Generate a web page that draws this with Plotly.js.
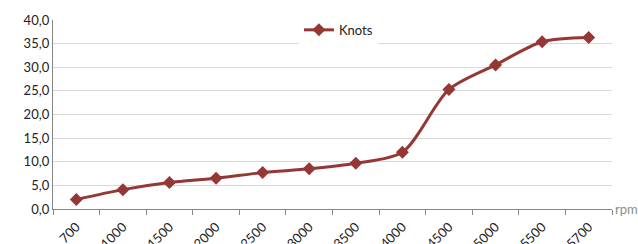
<!DOCTYPE html>
<html><head><meta charset="utf-8">
<script src="https://cdn.plot.ly/plotly-3.0.1.min.js"></script>
<style>html,body{margin:0;padding:0;background:#fff;}#chart{width:638px;height:244px;}</style>
</head><body><div id="chart"></div>
<script>
const categories = ['700','1000','1500','2000','2500','3000','3500','4000','4500','5000','5500','5700'];
const knots = [2.0, 4.1, 5.6, 6.5, 7.7, 8.5, 9.7, 12.0, 25.3, 30.5, 35.4, 36.3];
const seriesName = 'Knots';
const yTicks = [0,5,10,15,20,25,30,35,40];

const color = '#953735';
const font = 'Lato, "Open Sans", "DejaVu Sans", sans-serif';

Plotly.newPlot('chart', [{
  x: categories, y: knots, name: seriesName, type: 'scatter', mode: 'lines+markers',
  line: {color: color, width: 3, shape: 'spline', smoothing: 0.8},
  marker: {symbol: 'diamond', size: 10, color: color}
}], {
  width: 638, height: 244,
  margin: {l: 53, r: 26, t: 20, b: 35},
  paper_bgcolor: '#fff', plot_bgcolor: '#fff',
  separators: ', ',
  font: {family: font, size: 13, color: '#222'},
  showlegend: true,
  legend: {x: 0.44, y: 1.027, xanchor: 'left', yanchor: 'top', orientation: 'h',
           bgcolor: '#fff', font: {size: 13, color: '#222'}, itemwidth: 30},
  xaxis: {type: 'category', range: [-0.5, 11.5], showgrid: false, zeroline: false,
          showline: true, linecolor: '#868686', linewidth: 1.2,
          ticks: 'outside', tickson: 'boundaries', ticklen: 5, tickcolor: '#868686',
          tickangle: -45, ticklabelstandoff: 4, tickfont: {size: 13, color: '#222'}},
  yaxis: {range: [0, 40], tickvals: yTicks, tickformat: '.1f', showgrid: true,
          gridcolor: '#d9d9d9', gridwidth: 1.2, zeroline: false,
          showline: true, linecolor: '#868686', linewidth: 1.2, ticks: '',
          tickfont: {size: 13, color: '#222'}},
  annotations: [{xref: 'paper', yref: 'paper', x: 1, y: 0, xanchor: 'left', yanchor: 'middle',
                 text: 'rpm', showarrow: false, font: {size: 13, color: '#8c8c8c'}, xshift: 1}]
}, {displayModeBar: false, staticPlot: true});
</script></body></html>
